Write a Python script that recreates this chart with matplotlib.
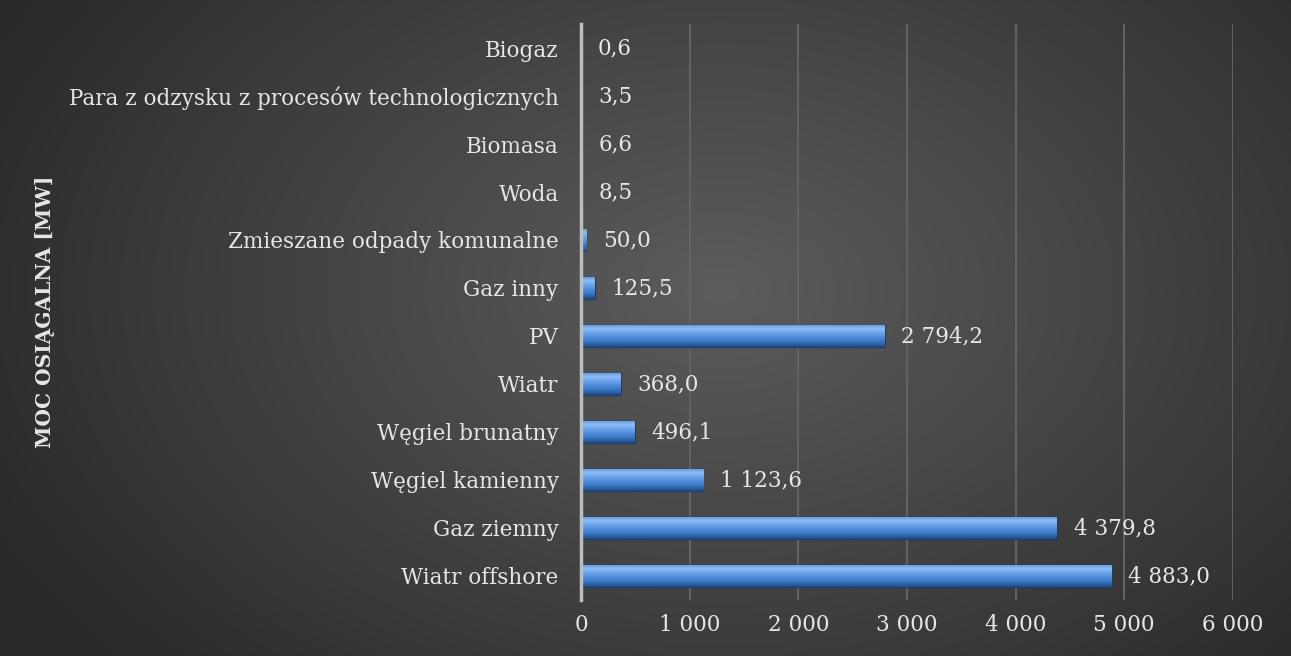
import numpy as np
import matplotlib.pyplot as plt
from matplotlib.colors import LinearSegmentedColormap

categories = ['Wiatr offshore', 'Gaz ziemny', 'Węgiel kamienny', 'Węgiel brunatny',
              'Wiatr', 'PV', 'Gaz inny', 'Zmieszane odpady komunalne', 'Woda',
              'Biomasa', 'Para z odzysku z procesów technologicznych', 'Biogaz']
values = [4883.0, 4379.8, 1123.6, 496.1, 368.0, 2794.2, 125.5, 50.0, 8.5, 6.6, 3.5, 0.6]
xticks = [0, 1000, 2000, 3000, 4000, 5000, 6000]


def pl(v, dec=1):
    s = f'{v:,.{dec}f}'
    return s.replace(',', ' ').replace('.', ',')


plt.rcParams['font.family'] = ['DejaVu Serif']
txt = '#e6e6e6'

fig = plt.figure(figsize=(12.91, 6.56), dpi=100)

# radial gradient background
bg = fig.add_axes([0, 0, 1, 1], zorder=-10)
yy, xx = np.mgrid[0:656, 0:1291]
r = np.sqrt(((xx - 720) / 820.0) ** 2 + ((yy - 290) / 560.0) ** 2)
r = np.clip(r, 0, 1)
bgcmap = LinearSegmentedColormap.from_list('bg', ['#5c5c5c', '#434343', '#292929'])
bg.imshow(r, cmap=bgcmap, aspect='auto', vmin=0, vmax=1)
bg.set_axis_off()

ax = fig.add_axes([0.450, 0.0854, 0.505, 0.878])
ax.patch.set_alpha(0)
y = np.arange(len(categories))
bars = ax.barh(y, values, height=0.46, color='#4a86d0', edgecolor='#1d3d6b',
               linewidth=1.0, zorder=3)

# bevel-like vertical shading inside each bar
barcmap = LinearSegmentedColormap.from_list(
    'bar', ['#234a85', '#3670bd', '#4b8ad9', '#69a2ea', '#8dbdf6', '#5b96df'])
grad = np.linspace(0, 1, 64).reshape(-1, 1)
for b in bars:
    x0, y0, w, h = b.get_x(), b.get_y(), b.get_width(), b.get_height()
    im = ax.imshow(grad, cmap=barcmap, aspect='auto', origin='lower',
                   extent=[x0, x0 + w, y0, y0 + h], zorder=4)
    im.set_clip_path(b)

for yi, v in zip(y, values):
    ax.annotate(pl(v), (v, yi), xytext=(12, 0), textcoords='offset points',
                va='center', ha='left', color=txt, fontsize=15.5, zorder=5)

ax.set_xlim(0, 6000)
ax.set_ylim(-0.5, len(categories) - 0.5)
ax.set_xticks(xticks)
ax.set_xticklabels([pl(t, 0) for t in xticks], color=txt, fontsize=15.5)
ax.set_yticks(y)
ax.set_yticklabels(categories, color=txt, fontsize=15.5)
ax.tick_params(length=0, pad=16)
ax.tick_params(axis='x', pad=10)
ax.grid(axis='x', color='#626262', linewidth=1.5, zorder=0)
for s in ['top', 'right', 'bottom']:
    ax.spines[s].set_visible(False)
ax.spines['left'].set_color('#bdbdbd')
ax.spines['left'].set_linewidth(2.5)
ax.spines['left'].set_zorder(6)

fig.text(45 / 1291, 1 - 312 / 656, 'MOC OSIĄGALNA [MW]', rotation=90, va='center',
         ha='center', color=txt, fontsize=14.5, fontweight='bold')

fig.savefig('out.png', dpi=100)
